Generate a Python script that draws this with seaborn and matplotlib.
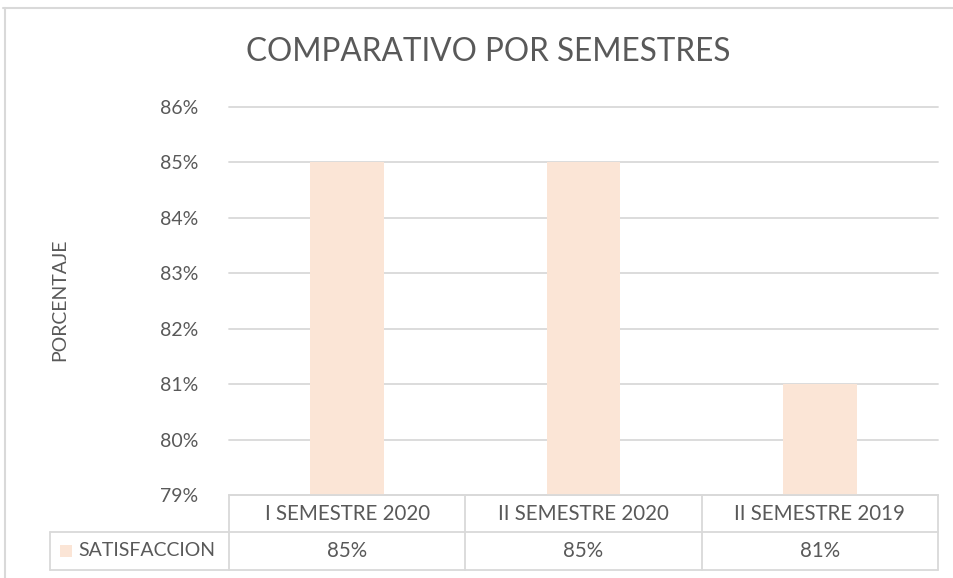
import matplotlib
matplotlib.use("Agg")
import matplotlib.pyplot as plt
import seaborn as sns
import pandas as pd
from matplotlib.lines import Line2D
from matplotlib.patches import Rectangle

categories = ["I SEMESTRE 2020", "II SEMESTRE 2020", "II SEMESTRE 2019"]
values = [85, 85, 81]
series_name = "SATISFACCION"
y_ticks = [79, 80, 81, 82, 83, 84, 85, 86]
title = "COMPARATIVO POR SEMESTRES"
y_label = "PORCENTAJE"

sns.set_style("white")
FONT = ["Lato", "DejaVu Sans"]
plt.rcParams["font.family"] = FONT
plt.rcParams["font.weight"] = "normal"

W, H = 954, 578
BAR = "#FBE5D6"
GRID = "#D9D9D9"
TXT = "#595959"
FS = 14
FS_TABLE = 14.8

fig = plt.figure(figsize=(W / 100, H / 100), dpi=100)

def fx(x):
    return x / W

def fy(y):
    return 1 - y / H

L, R, T, B = 229, 938, 107, 495
ax = fig.add_axes([fx(L), fy(B), fx(R) - fx(L), fy(T) - fy(B)])

df = pd.DataFrame({"cat": categories, "val": values})
sns.barplot(data=df, x="cat", y="val", color=BAR, width=0.313, ax=ax,
            saturation=1, edgecolor="none")
ax.set_ylim(y_ticks[0], y_ticks[-1])
ax.set_yticks(y_ticks)
ax.set_yticklabels([f"{t}%" for t in y_ticks], color=TXT, fontsize=FS)
ax.tick_params(axis="y", length=0, pad=22)
ax.set_xticks([])
ax.set_xlabel("")
ax.set_ylabel("")
ax.grid(axis="y", color=GRID, linewidth=1.3)
for gl in ax.get_ygridlines():
    gl.set_clip_on(False)
ax.set_axisbelow(True)
for s in ax.spines.values():
    s.set_visible(False)

# title and y label
fig.text(fx(488), fy(52), title, ha="center", va="center", fontsize=22.7, color=TXT)
fig.text(fx(60), fy(300), y_label, ha="center", va="center", rotation=90,
         fontsize=FS, color=TXT)

# frame
fig.add_artist(Line2D([fx(3), fx(954)], [fy(8), fy(8)], color=GRID, lw=1.5))
fig.add_artist(Line2D([fx(5), fx(5)], [fy(8), fy(578)], color=GRID, lw=1.5))

# data table
row1_top, row_mid, row2_bot = 495, 532, 570
left_cell = 50
col_edges = [L + (R - L) * i / len(categories) for i in range(len(categories) + 1)]
tl = dict(color=GRID, lw=1.3)
fig.add_artist(Line2D([fx(L), fx(R)], [fy(row1_top), fy(row1_top)], **tl))
fig.add_artist(Line2D([fx(left_cell), fx(R)], [fy(row_mid), fy(row_mid)], **tl))
fig.add_artist(Line2D([fx(left_cell), fx(R)], [fy(row2_bot), fy(row2_bot)], **tl))
fig.add_artist(Line2D([fx(left_cell), fx(left_cell)], [fy(row_mid), fy(row2_bot)], **tl))
for x in col_edges:
    fig.add_artist(Line2D([fx(x), fx(x)], [fy(row1_top), fy(row2_bot)], **tl))
for i, c in enumerate(categories):
    cx = (col_edges[i] + col_edges[i + 1]) / 2
    fig.text(fx(cx), fy((row1_top + row_mid) / 2), c, ha="center", va="center",
             fontsize=FS_TABLE, color=TXT)
    fig.text(fx(cx), fy((row_mid + row2_bot) / 2), f"{values[i]}%", ha="center",
             va="center", fontsize=FS_TABLE, color=TXT)
fig.add_artist(Rectangle((fx(60), fy(557)), fx(12), fy(545) - fy(557),
                         facecolor=BAR, edgecolor="none", transform=fig.transFigure))
fig.text(fx(78), fy((row_mid + row2_bot) / 2), series_name, ha="left", va="center",
         fontsize=FS, color=TXT)

fig.savefig("out.png", dpi=100)
